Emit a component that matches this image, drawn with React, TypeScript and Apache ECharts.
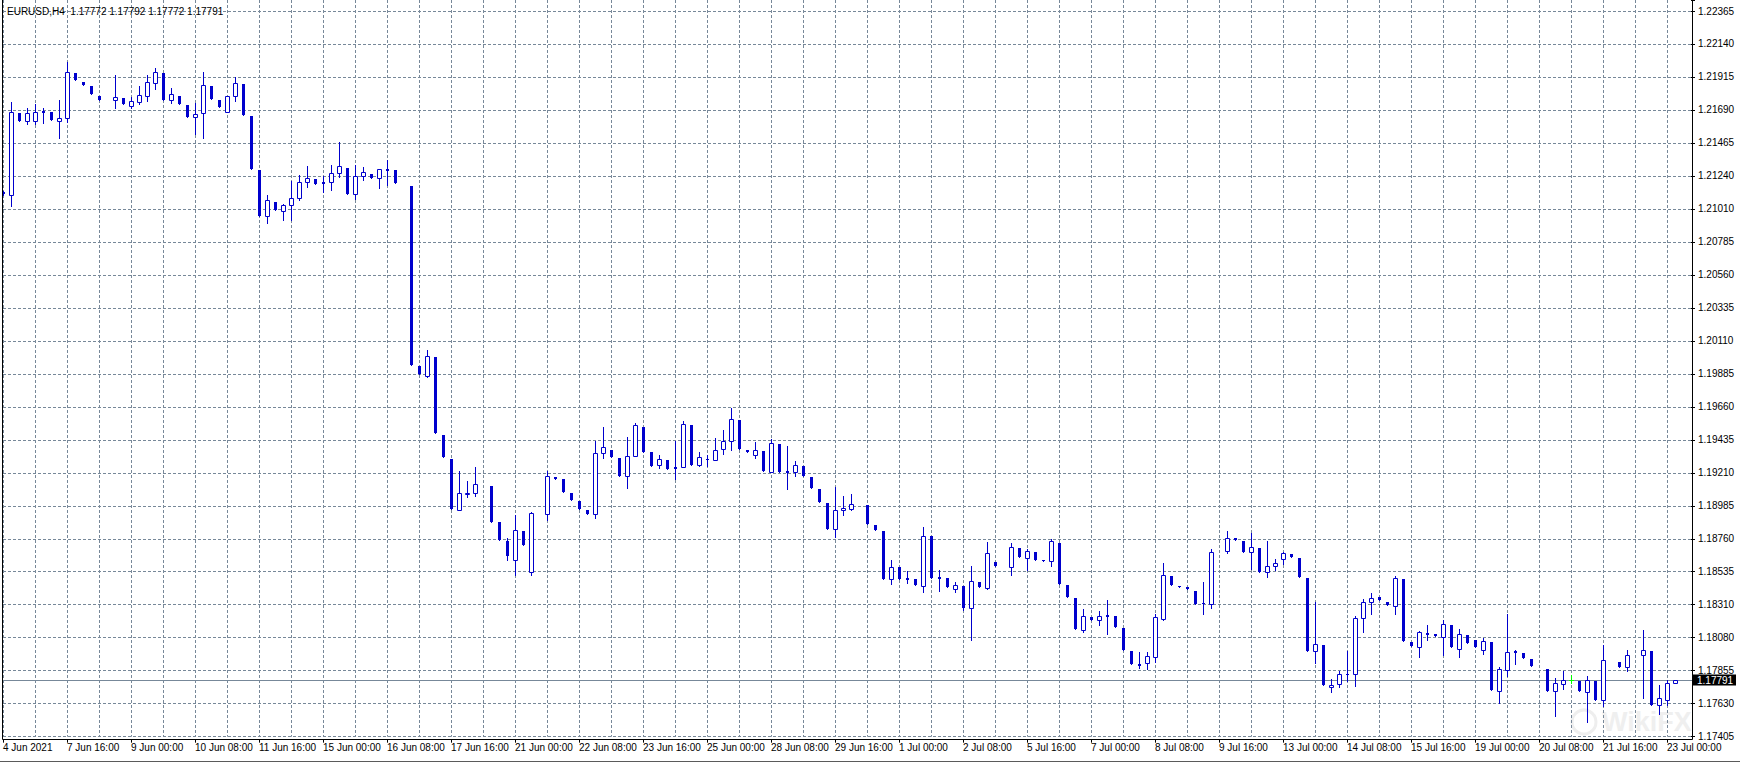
import React, { useEffect, useRef } from 'react';
import * as echarts from 'echarts';

// ---- data (EURUSD, H4) ----
const TITLE = 'EURUSD,H4  1.17772 1.17792 1.17772 1.17791';
const LAST_PRICE = 1.17791;

const X_LABELS = [
  '4 Jun 2021', '7 Jun 16:00', '9 Jun 00:00', '10 Jun 08:00', '11 Jun 16:00', '15 Jun 00:00',
  '16 Jun 08:00', '17 Jun 16:00', '21 Jun 00:00', '22 Jun 08:00', '23 Jun 16:00', '25 Jun 00:00',
  '28 Jun 08:00', '29 Jun 16:00', '1 Jul 00:00', '2 Jul 08:00', '5 Jul 16:00', '7 Jul 00:00',
  '8 Jul 08:00', '9 Jul 16:00', '13 Jul 00:00', '14 Jul 08:00', '15 Jul 16:00', '19 Jul 00:00',
  '20 Jul 08:00', '21 Jul 16:00', '23 Jul 00:00',
];

const Y_LABELS = [
  '1.17405', '1.17630', '1.17855', '1.18080', '1.18310', '1.18535', '1.18760', '1.18985',
  '1.19210', '1.19435', '1.19660', '1.19885', '1.20110', '1.20335', '1.20560', '1.20785',
  '1.21010', '1.21240', '1.21465', '1.21690', '1.21915', '1.22140', '1.22365',
];

const N = null;
const OPEN = [
  1.21128, 1.21109, 1.21670, 1.21611, 1.21615, 1.21682, 1.21675, 1.21615, 1.21632, 1.21941,
  1.21880, 1.21852, 1.21784, N, 1.21755, 1.21770, 1.21718, 1.21745, 1.21786, 1.21875,
  1.21941, 1.21755, 1.21784, 1.21723, 1.21639, 1.21666, 1.21852, 1.21757, 1.21673, 1.21784,
  1.21866, 1.21647, 1.21278, 1.20962, 1.21058, 1.20996, 1.21037, 1.21085, 1.21194, 1.21217,
  1.21196, 1.21194, 1.21256, 1.21292, 1.21114, 1.21235, 1.21251, 1.21222, 1.21285, 1.21278,
  N, 1.21167, 1.19939, 1.19872, 1.19998, 1.19467, 1.19301, 1.18952, 1.19066, 1.19069,
  N, 1.19120, 1.18872, 1.18743, 1.18613, 1.18811, 1.18531, N, 1.18925, 1.19180,
  1.19166, 1.19071, 1.19016, 1.18954, 1.18925, 1.19342, 1.19364, 1.19310, 1.19189, 1.19321,
  1.19524, 1.19351, 1.19260, 1.19296, 1.19246, 1.19246, 1.19535, 1.19260, 1.19301, 1.19298,
  1.19370, 1.19424, 1.19570, 1.19364, 1.19332, 1.19358, 1.19216, 1.19406, 1.19221, 1.19216,
  1.19255, 1.19180, 1.19098, 1.19002, 1.18822, 1.18952, 1.18959, N, 1.18989, 1.18852,
  1.18811, 1.18481, 1.18565, 1.18490, 1.18483, 1.18437, 1.18777, 1.18496, 1.18488, 1.18416,
  1.18435, 1.18285, 1.18462, 1.18423, 1.18599, N, 1.18563, 1.18695, 1.18624, 1.18667,
  1.18615, 1.18604, 1.18729, 1.18442, 1.18353, 1.18136, 1.18223, 1.18201, 1.18237, 1.18228,
  1.18146, 1.17991, 1.17900, 1.17907, 1.17952, 1.18211, 1.18503, 1.18437, 1.18428, 1.18401,
  1.18319, 1.18314, N, 1.18672, 1.18763, 1.18743, 1.18664, 1.18693, 1.18529, 1.18570,
  1.18617, 1.18654, 1.18626, 1.18490, 1.17989, 1.18032, 1.17742, 1.17763, 1.17833, 1.17831,
  1.18214, 1.18324, 1.18358, 1.18326, 1.18300, 1.18483, 1.18052, 1.18020, 1.18114, 1.18107,
  1.18088, 1.18168, 1.18006, 1.18100, 1.18066, 1.17998, 1.18052, 1.17719, 1.17863, 1.17991,
  1.17975, 1.17936, N, 1.17867, 1.17719, 1.17767, 1.17792, 1.17784, 1.17712, 1.17786,
  1.17654, N, 1.17915, 1.17879, N, 1.17961, 1.17991, 1.17620, 1.17655, 1.17772,
];
const HIGH = [
  1.21135, 1.21743, 1.21670, 1.21700, 1.21727, 1.21704, 1.21675, 1.21757, 1.22016, 1.21941,
  1.21880, 1.21852, 1.21784, N, 1.21928, 1.21770, 1.21775, 1.21852, 1.21928, 1.21975,
  1.21941, 1.21839, 1.21784, 1.21723, 1.21738, 1.21948, 1.21852, 1.21757, 1.21784, 1.21914,
  1.21866, 1.21647, 1.21278, 1.21107, 1.21058, 1.21046, 1.21203, 1.21244, 1.21306, 1.21217,
  1.21239, 1.21315, 1.21470, 1.21292, 1.21312, 1.21297, 1.21251, 1.21283, 1.21347, 1.21278,
  N, 1.21167, 1.19939, 1.20048, 1.19998, 1.19467, 1.19301, 1.19219, 1.19153, 1.19246,
  N, 1.19120, 1.18872, 1.18763, 1.18920, 1.18811, 1.18939, N, 1.19223, 1.19180,
  1.19166, 1.19071, 1.19016, 1.18954, 1.19426, 1.19522, 1.19364, 1.19310, 1.19455, 1.19551,
  1.19524, 1.19351, 1.19330, 1.19296, 1.19426, 1.19563, 1.19535, 1.19351, 1.19330, 1.19444,
  1.19501, 1.19650, 1.19570, 1.19364, 1.19421, 1.19358, 1.19438, 1.19406, 1.19392, 1.19289,
  1.19255, 1.19180, 1.19098, 1.19002, 1.19112, 1.19050, 1.19064, N, 1.18989, 1.18852,
  1.18811, 1.18613, 1.18565, 1.18537, 1.18483, 1.18840, 1.18777, 1.18542, 1.18488, 1.18462,
  1.18435, 1.18572, 1.18462, 1.18734, 1.18599, N, 1.18727, 1.18695, 1.18690, 1.18667,
  1.18615, 1.18758, 1.18729, 1.18442, 1.18353, 1.18278, 1.18223, 1.18264, 1.18339, 1.18228,
  1.18146, 1.17991, 1.17984, 1.17984, 1.18244, 1.18590, 1.18503, 1.18437, 1.18428, 1.18401,
  1.18462, 1.18690, N, 1.18811, 1.18763, 1.18743, 1.18797, 1.18693, 1.18743, 1.18619,
  1.18664, 1.18654, 1.18626, 1.18490, 1.18326, 1.18032, 1.17797, 1.17854, 1.17991, 1.18230,
  1.18348, 1.18387, 1.18358, 1.18326, 1.18501, 1.18483, 1.18052, 1.18127, 1.18168, 1.18107,
  1.18203, 1.18168, 1.18143, 1.18100, 1.18066, 1.18080, 1.18052, 1.17884, 1.18244, 1.17998,
  1.17975, 1.17936, N, 1.17867, 1.17806, 1.17854, 1.17827, 1.17784, 1.17820, 1.17786,
  1.18032, N, 1.17915, 1.17997, N, 1.18134, 1.17991, 1.17758, 1.17795, 1.17792,
];
const LOW = [
  1.21107, 1.21034, 1.21615, 1.21593, 1.21591, 1.21597, 1.21622, 1.21499, 1.21606, 1.21895,
  1.21861, 1.21796, 1.21759, N, 1.21702, 1.21731, 1.21702, 1.21729, 1.21752, 1.21834,
  1.21759, 1.21738, 1.21731, 1.21643, 1.21524, 1.21499, 1.21764, 1.21711, 1.21673, 1.21752,
  1.21656, 1.21287, 1.20966, 1.20918, 1.21003, 1.20939, 1.20937, 1.21075, 1.21164, 1.21185,
  1.21130, 1.21144, 1.21230, 1.21116, 1.21082, 1.21212, 1.21226, 1.21157, 1.21176, 1.21186,
  N, 1.19943, 1.19882, 1.19865, 1.19479, 1.19315, 1.18959, 1.18952, 1.19041, 1.19052,
  N, 1.18874, 1.18749, 1.18613, 1.18510, 1.18715, 1.18510, N, 1.18886, 1.19168,
  1.19079, 1.19023, 1.18961, 1.18929, 1.18898, 1.19312, 1.19319, 1.19189, 1.19107, 1.19321,
  1.19353, 1.19257, 1.19243, 1.19237, 1.19168, 1.19246, 1.19264, 1.19255, 1.19255, 1.19298,
  1.19339, 1.19364, 1.19373, 1.19353, 1.19312, 1.19223, 1.19216, 1.19216, 1.19098, 1.19189,
  1.19189, 1.19107, 1.19011, 1.18827, 1.18772, 1.18922, 1.18952, N, 1.18861, 1.18818,
  1.18485, 1.18451, 1.18485, 1.18457, 1.18444, 1.18396, 1.18492, 1.18403, 1.18430, 1.18396,
  1.18271, 1.18066, 1.18430, 1.18412, 1.18574, N, 1.18512, 1.18635, 1.18546, 1.18615,
  1.18608, 1.18572, 1.18451, 1.18362, 1.18143, 1.18121, 1.18205, 1.18170, 1.18109, 1.18157,
  1.18000, 1.17904, 1.17877, 1.17866, 1.17918, 1.18203, 1.18444, 1.18430, 1.18413, 1.18314,
  1.18246, 1.18287, N, 1.18663, 1.18751, 1.18668, 1.18553, 1.18533, 1.18499, 1.18544,
  1.18583, 1.18635, 1.18499, 1.17993, 1.17907, 1.17760, 1.17712, 1.17747, 1.17784, 1.17753,
  1.18123, 1.18246, 1.18337, 1.18307, 1.18246, 1.18061, 1.18025, 1.17952, 1.18068, 1.18095,
  1.17965, 1.18018, 1.17952, 1.18047, 1.18020, 1.17970, 1.17724, 1.17633, 1.17818, 1.17904,
  1.17943, 1.17886, N, 1.17719, 1.17548, 1.17731, 1.17770, 1.17719, 1.17507, 1.17658,
  1.17615, N, 1.17884, 1.17856, N, 1.17666, 1.17624, 1.17562, 1.17624, 1.17772,
];
const CLOSE = [
  1.21116, 1.21673, 1.21615, 1.21666, 1.21675, 1.21670, 1.21622, 1.21634, 1.21946, 1.21895,
  1.21861, 1.21796, 1.21759, N, 1.21777, 1.21731, 1.21748, 1.21791, 1.21878, 1.21946,
  1.21759, 1.21798, 1.21731, 1.21643, 1.21661, 1.21859, 1.21764, 1.21711, 1.21784, 1.21871,
  1.21656, 1.21287, 1.20966, 1.21071, 1.21003, 1.21037, 1.21087, 1.21194, 1.21224, 1.21185,
  1.21185, 1.21256, 1.21304, 1.21116, 1.21235, 1.21263, 1.21226, 1.21283, 1.21274, 1.21186,
  N, 1.19943, 1.19882, 1.20005, 1.19479, 1.19315, 1.18959, 1.19069, 1.19073, 1.19130,
  N, 1.18874, 1.18749, 1.18640, 1.18818, 1.18715, 1.18932, N, 1.19187, 1.19168,
  1.19079, 1.19023, 1.18961, 1.18929, 1.19342, 1.19383, 1.19319, 1.19189, 1.19321, 1.19535,
  1.19353, 1.19257, 1.19301, 1.19237, 1.19237, 1.19540, 1.19264, 1.19315, 1.19294, 1.19362,
  1.19424, 1.19574, 1.19373, 1.19353, 1.19364, 1.19223, 1.19410, 1.19216, 1.19209, 1.19260,
  1.19189, 1.19107, 1.19011, 1.18827, 1.18952, 1.18968, 1.18993, N, 1.18861, 1.18818,
  1.18485, 1.18563, 1.18485, 1.18478, 1.18444, 1.18777, 1.18492, 1.18485, 1.18430, 1.18440,
  1.18285, 1.18467, 1.18430, 1.18658, 1.18574, N, 1.18699, 1.18635, 1.18672, 1.18615,
  1.18608, 1.18743, 1.18451, 1.18362, 1.18143, 1.18228, 1.18205, 1.18228, 1.18225, 1.18157,
  1.18000, 1.17904, 1.17888, 1.17954, 1.18221, 1.18508, 1.18444, 1.18430, 1.18413, 1.18314,
  1.18312, 1.18664, N, 1.18761, 1.18751, 1.18668, 1.18699, 1.18533, 1.18570, 1.18590,
  1.18658, 1.18635, 1.18499, 1.17993, 1.18036, 1.17760, 1.17758, 1.17833, 1.17827, 1.18214,
  1.18324, 1.18351, 1.18337, 1.18307, 1.18488, 1.18061, 1.18025, 1.18118, 1.18102, 1.18095,
  1.18173, 1.18018, 1.18107, 1.18047, 1.18020, 1.18057, 1.17724, 1.17866, 1.17982, 1.17979,
  1.17943, 1.17886, N, 1.17719, 1.17770, 1.17790, 1.17792, 1.17719, 1.17790, 1.17658,
  1.17927, N, 1.17884, 1.17961, N, 1.17997, 1.17624, 1.17666, 1.17770, 1.17791,
];

const CATEGORY_COUNT = 212; // 210 bars + empty space at the right
const Y_MIN = 1.17405;
const Y_TOP_TICK = 1.22365;
const Y_STEPS = 22;
const Y_MAX = 1.224402;

const BLUE = '#0000cd';
const LIME = '#00ff00';
const GRID_COLOR = '#778899';
const FONT = '"Liberation Sans", Arial, sans-serif';

export default function App() {
  const ref = useRef<HTMLDivElement>(null);

  useEffect(() => {
    if (!ref.current) return;
    const chart = echarts.init(ref.current, undefined, { renderer: 'svg' });
    const STEP = (Y_TOP_TICK - Y_MIN) / Y_STEPS;

    const categories = Array.from({ length: CATEGORY_COUNT }, (_, i) => String(i));
    const data: any[] = [];
    OPEN.forEach((o, i) => {
      if (o == null) return;
      data.push([i, o, CLOSE[i], LOW[i], HIGH[i]]);
    });

    const renderCandle = (params: any, api: any) => {
      const idx = api.value(0);
      const o = api.value(1);
      const c = api.value(2);
      const l = api.value(3);
      const h = api.value(4);
      const pO = api.coord([idx, o]);
      const col = Math.round(pO[0]);
      const yO = pO[1];
      const yC = api.coord([idx, c])[1];
      const yL = Math.round(api.coord([idx, l])[1]);
      const yH = Math.round(api.coord([idx, h])[1]);
      const top = Math.round(Math.min(yO, yC));
      const bot = Math.round(Math.max(yO, yC));
      const children: any[] = [];
      if (o === c) {
        children.push({
          type: 'line',
          shape: { x1: col + 0.5, y1: yH, x2: col + 0.5, y2: yL + 1 },
          style: { stroke: LIME, lineWidth: 1 },
        });
        children.push({
          type: 'line',
          shape: { x1: col - 2, y1: top + 0.5, x2: col + 3, y2: top + 0.5 },
          style: { stroke: LIME, lineWidth: 1 },
        });
      } else if (c > o) {
        children.push({
          type: 'line',
          shape: { x1: col + 0.5, y1: yH, x2: col + 0.5, y2: yL + 1 },
          style: { stroke: BLUE, lineWidth: 1 },
        });
        children.push({
          type: 'rect',
          shape: { x: col - 1.5, y: top + 0.5, width: 4, height: Math.max(bot - top, 1) },
          style: { fill: '#ffffff', stroke: BLUE, lineWidth: 1 },
        });
      } else {
        children.push({
          type: 'line',
          shape: { x1: col + 0.5, y1: yH, x2: col + 0.5, y2: yL + 1 },
          style: { stroke: BLUE, lineWidth: 1 },
        });
        children.push({
          type: 'rect',
          shape: { x: col - 1, y: top, width: 3, height: Math.max(bot - top, 1) },
          style: { fill: BLUE },
        });
      }
      return { type: 'group', children };
    };

    const renderPriceLine = (params: any, api: any) => {
      const cs = params.coordSys;
      const y = Math.round(api.coord([0, api.value(1)])[1]) + 0.5;
      const right = cs.x + cs.width;
      return {
        type: 'group',
        children: [
          {
            type: 'line',
            shape: { x1: cs.x - 1, y1: y, x2: right + 1, y2: y },
            style: { stroke: GRID_COLOR, lineWidth: 1 },
          },
          {
            type: 'rect',
            shape: { x: right + 2, y: y - 6, width: 43, height: 11 },
            style: { fill: '#000000' },
          },
          {
            type: 'text',
            x: right + 6,
            y: y,
            style: {
              text: Number(api.value(1)).toFixed(5),
              fill: '#ffffff',
              fontSize: 10,
              fontFamily: FONT,
              verticalAlign: 'middle',
            },
          },
        ],
      };
    };

    const option: any = {
      animation: false,
      backgroundColor: '#ffffff',
      grid: { left: 3, right: 49, top: 0, bottom: 26.33, containLabel: false },
      xAxis: {
        type: 'category',
        data: categories,
        boundaryGap: false,
        offset: 3,
        axisLine: { show: false },
        axisTick: { show: true, interval: 7, length: 3, lineStyle: { color: '#000' } },
        axisLabel: {
          interval: 7,
          align: 'left',
          margin: 3,
          color: '#000',
          fontSize: 10,
          fontFamily: FONT,
          formatter: (_v: string, index: number) =>
            index % 8 === 0 && X_LABELS[index / 8] ? X_LABELS[index / 8] : '',
        },
        splitLine: {
          show: true,
          interval: 3,
          lineStyle: { color: GRID_COLOR, type: [3, 2], width: 1 },
        },
      },
      yAxis: {
        type: 'value',
        position: 'right',
        min: Y_MIN,
        max: Y_MAX,
        interval: STEP,
        axisLine: { show: false },
        axisTick: { show: true, length: 4, lineStyle: { color: '#000' } },
        axisLabel: {
          margin: 7,
          color: '#000',
          fontSize: 10,
          fontFamily: FONT,
          formatter: (v: number) => {
            const k = Math.round((v - Y_MIN) / STEP);
            if (k < 0 || k > Y_STEPS) return '';
            if (Math.abs(v - (Y_MIN + k * STEP)) > STEP * 0.05) return '';
            return Y_LABELS[k];
          },
        },
        splitLine: {
          show: true,
          showMaxLine: false,
          lineStyle: { color: GRID_COLOR, type: [3, 2], width: 1 },
        },
      },
      series: [
        {
          type: 'custom',
          name: 'price-line',
          renderItem: renderPriceLine,
          data: [[0, LAST_PRICE]],
          clip: false,
          silent: true,
          encode: { x: 0, y: 1 },
          z: 2,
        },
        {
          type: 'custom',
          name: 'EURUSD',
          renderItem: renderCandle,
          data,
          clip: true,
          silent: true,
          encode: { x: 0, y: [1, 2, 3, 4] },
          z: 3,
        },
      ],
      graphic: [
        {
          type: 'polyline',
          silent: true,
          z: 10,
          shape: { points: [[2.5, 0], [2.5, 739.5], [1692.5, 739.5], [1692.5, 0]] },
          style: { stroke: '#000000', lineWidth: 1, fill: null },
        },
        {
          type: 'line',
          silent: true,
          shape: { x1: 0, y1: 761.5, x2: 1740, y2: 761.5 },
          style: { stroke: '#5a5a5a', lineWidth: 1 },
        },
        {
          type: 'text',
          silent: true,
          x: 7,
          y: 11,
          z: 10,
          style: {
            text: TITLE,
            fill: '#000000',
            fontSize: 10,
            fontFamily: FONT,
            verticalAlign: 'middle',
          },
        },
        {
          type: 'circle',
          silent: true,
          z: 0,
          shape: { cx: 1584, cy: 722, r: 12 },
          style: { stroke: '#eeeeee', lineWidth: 3, fill: null },
        },
        {
          type: 'text',
          silent: true,
          z: 0,
          x: 1602,
          y: 722,
          style: {
            text: 'WikiFX',
            fill: '#efefef',
            fontSize: 27,
            fontWeight: 'bold',
            fontFamily: FONT,
            verticalAlign: 'middle',
          },
        },
      ],
    };

    chart.setOption(option);
    return () => chart.dispose();
  }, []);

  return (
    <div
      ref={ref}
      style={{ position: 'fixed', left: 0, top: 0, width: 1740, height: 763, background: '#fff' }}
    />
  );
}
